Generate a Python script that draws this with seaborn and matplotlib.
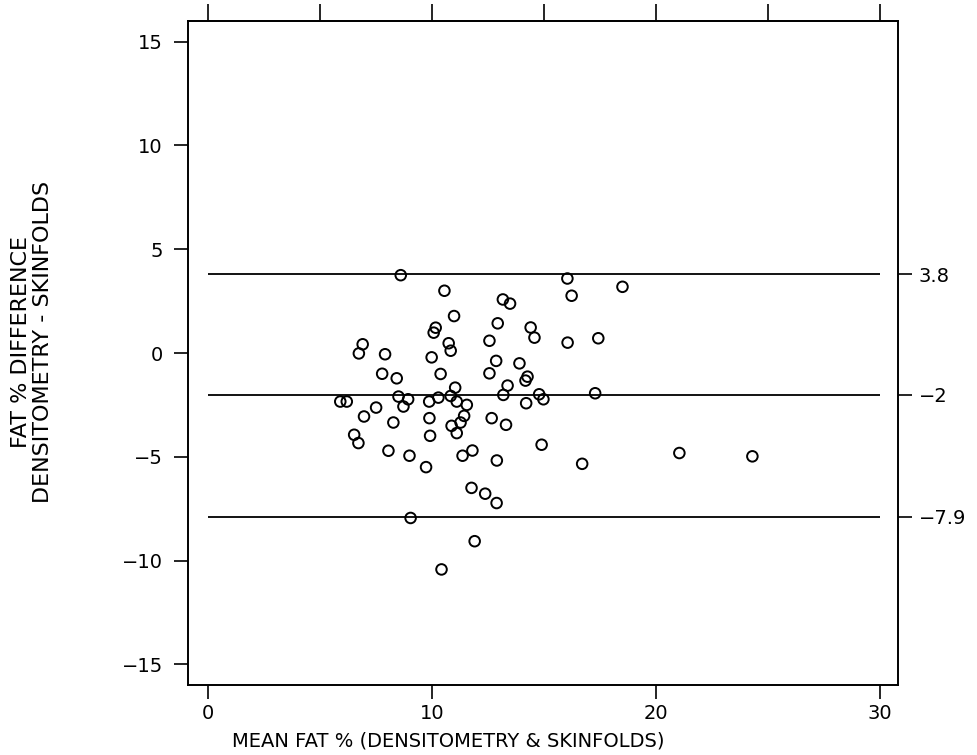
import numpy as np
import pandas as pd
import matplotlib
matplotlib.use("Agg")
import matplotlib.pyplot as plt
import seaborn as sns

# ----------------------------- data ------------------------------------
# mean fat % of the two methods (x) and difference densitometry - skinfolds (y)
mean_fat = [
    8.6, 10.55, 13.16, 13.48, 10.98, 12.93, 10.16, 10.07, 6.9, 6.73,
    12.56, 10.74, 10.83, 7.9, 9.98, 12.86, 12.56, 7.77, 8.42, 10.38,
    11.03, 5.9, 6.19, 8.5, 8.93, 8.72, 7.5, 9.87, 10.28, 10.83,
    11.1, 11.55, 6.96, 8.27, 9.88, 10.87, 11.27, 11.43, 11.1, 12.66,
    6.52, 6.71, 9.91, 12.89, 8.05, 8.99, 9.73, 11.36, 11.8, 11.76,
    12.37, 12.88, 9.04, 11.9, 10.42, 16.04, 18.5, 16.23, 14.4, 14.57,
    16.05, 17.42, 13.9, 14.26, 14.17, 13.37, 13.18, 14.78, 14.97, 14.2,
    17.28, 13.3, 14.89, 16.7, 21.04, 24.3,
]
fat_diff = [
    3.75, 3.0, 2.58, 2.38, 1.78, 1.43, 1.22, 0.98, 0.42, -0.02,
    0.59, 0.47, 0.11, -0.06, -0.21, -0.38, -0.98, -1.0, -1.22, -1.01,
    -1.67, -2.34, -2.34, -2.1, -2.23, -2.58, -2.63, -2.34, -2.15, -2.07,
    -2.34, -2.5, -3.06, -3.35, -3.14, -3.51, -3.35, -3.03, -3.86, -3.14,
    -3.94, -4.34, -3.99, -5.18, -4.71, -4.95, -5.5, -4.95, -4.7, -6.5,
    -6.78, -7.23, -7.95, -9.07, -10.43, 3.59, 3.19, 2.76, 1.23, 0.74,
    0.5, 0.71, -0.5, -1.14, -1.33, -1.57, -2.02, -1.99, -2.23, -2.42,
    -1.94, -3.46, -4.42, -5.34, -4.82, -4.98,
]

# mean difference and limits of agreement
limit_values = [3.8, -2.0, -7.9]
limit_labels = ["3.8", "-2", "-7.9"]
line_span = [0, 30]

x_ticks = [0, 10, 20, 30]
top_ticks = [0, 5, 10, 15, 20, 25, 30]
y_ticks = [15, 10, 5, 0, -5, -10, -15]

XLABEL = "MEAN FAT % (DENSITOMETRY & SKINFOLDS)"
YLABEL = "FAT % DIFFERENCE\nDENSITOMETRY - SKINFOLDS"

# ----------------------------- plot ------------------------------------
sns.set_style("ticks")
plt.rcParams["font.family"] = ["DejaVu Sans"]
plt.rcParams["axes.linewidth"] = 1.2
plt.rcParams["text.color"] = "black"
plt.rcParams["axes.labelcolor"] = "black"
plt.rcParams["xtick.color"] = "black"
plt.rcParams["ytick.color"] = "black"

df = pd.DataFrame({"mean_fat": mean_fat, "fat_diff": fat_diff})

fig = plt.figure(figsize=(9.77, 7.55), dpi=100)
ax = fig.add_axes([0.1924, 0.0927, 0.7267, 0.8795])

ax.hlines(limit_values, line_span[0], line_span[1], colors="black", linewidth=1.3)

sns.scatterplot(
    data=df, x="mean_fat", y="fat_diff", ax=ax,
    marker="o", s=58, facecolors="none", edgecolor="black", linewidth=1.4,
    zorder=3,
)

ax.set_xlim(-0.9, 30.8)
ax.set_ylim(-16.0, 16.0)
ax.set_xticks(x_ticks)
ax.set_xticklabels([str(t) for t in x_ticks])
ax.set_yticks(y_ticks)
ax.set_yticklabels([str(t).replace("-", "\u2212") for t in y_ticks])
ax.tick_params(axis="y", direction="out", length=10, width=1.2, pad=8, labelsize=14)
ax.tick_params(axis="x", direction="out", length=10, width=1.2, pad=4, labelsize=14)

ax.set_xlabel(XLABEL, fontsize=14)
ax.xaxis.set_label_coords(0.366, -0.07)
ax.set_ylabel(YLABEL, fontsize=16, linespacing=1.1)
ax.yaxis.set_label_coords(-0.19, 0.517)

# unlabeled ticks along the top
top = ax.secondary_xaxis("top")
top.set_xticks(top_ticks)
top.set_xticklabels([])
top.tick_params(direction="out", length=12, width=1.2)

# labels for the three horizontal lines on the right
right = ax.twinx()
right.set_ylim(ax.get_ylim())
right.set_yticks(limit_values)
right.set_yticklabels([s.replace("-", "\u2212") for s in limit_labels])
right.tick_params(direction="out", length=10, width=1.2, pad=5, labelsize=14)

for a in (ax, right):
    for sp in a.spines.values():
        sp.set_color("black")
        sp.set_linewidth(1.2)

fig.savefig("out.png", dpi=100, facecolor="white")
